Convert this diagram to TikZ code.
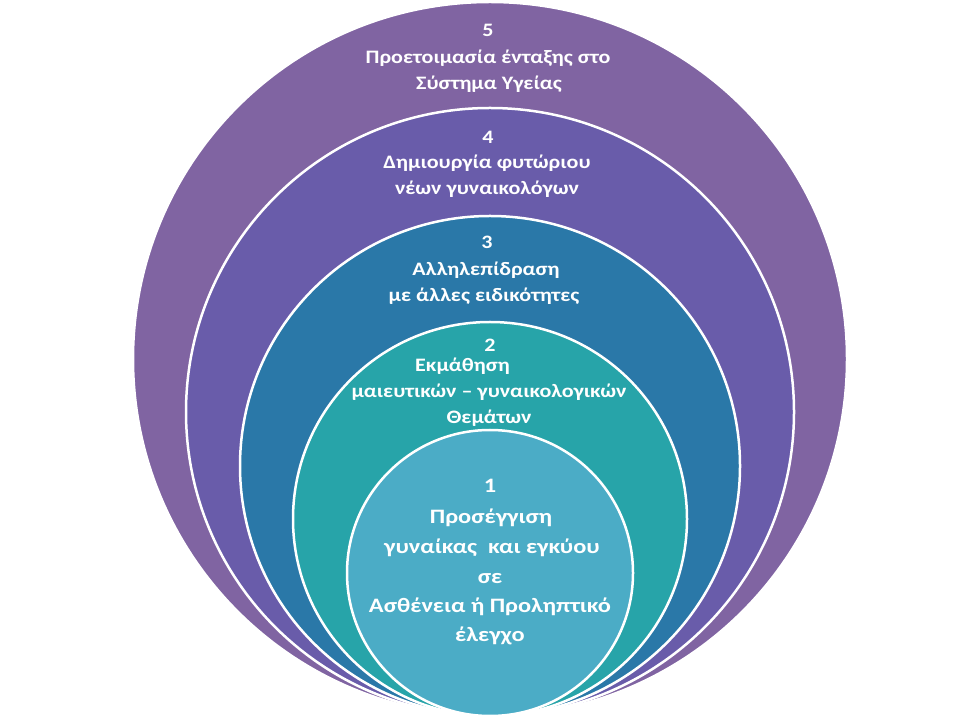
\documentclass[tikz,border=0pt]{standalone}
\usepackage{fontspec}
\setmainfont{Carlito}[FakeStretch=1.16]
\newfontfamily\bigringfont{Carlito}[FakeStretch=1.19]
\definecolor{cfive}{HTML}{8064A2}
\definecolor{cfour}{HTML}{695CAA}
\definecolor{cthree}{HTML}{2A78A8}
\definecolor{ctwo}{HTML}{27A4A9}
\definecolor{cone}{HTML}{4BACC6}
\tikzset{
  ring/.style={draw=white, line width=2.5pt},
  lbl/.style={text=white, anchor=base, inner sep=0pt, font=\bfseries\fontsize{19}{22}\selectfont},
  lblbig/.style={lbl, font=\bigringfont\bfseries\fontsize{20.5}{24}\selectfont},
}
\begin{document}
\begin{tikzpicture}[x=1pt,y=1pt]
\useasboundingbox (0,0) rectangle (960,720);
% circles, all tangent at the bottom
\path[ring, fill=cfive]  (490,361) circle (357);
\path[ring, fill=cfour]  (490,308) circle (304);
\path[ring, fill=cthree] (490,254) circle (250);
\path[ring, fill=ctwo]   (490,201) circle (197);
\path[ring, fill=cone]   (490,147) circle (143);
% circle 5
\node[lbl] (t5a) at (488,683) {5};
\node[lbl] (t5b) at (488,656) {Προετοιμασία ένταξης στο};
\node[lbl] (t5c) at (489,630) {Σύστημα Υγείας};
% circle 4
\node[lbl] (t4a) at (488,576) {4};
\node[lbl] (t4b) at (487,551) {Δημιουργία φυτώριου};
\node[lbl] (t4c) at (487,525) {νέων γυναικολόγων};
% circle 3
\node[lbl] (t3a) at (487,471) {3};
\node[lbl] (t3b) at (486,444) {Αλληλεπίδραση};
\node[lbl] (t3c) at (484,418) {με άλλες ειδικότητες};
% circle 2
\node[lbl] (t2a) at (490,368) {2};
\node[lbl, anchor=base west] (t2b) at (415,348) {Εκμάθηση};
\node[lbl] (t2c) at (489,322) {μαιευτικών – γυναικολογικών};
\node[lbl] (t2d) at (489,296) {Θεμάτων};
% circle 1
\node[lblbig] (t1a) at (490,227) {1};
\node[lblbig] (t1b) at (491,196) {Προσέγγιση};
\node[lblbig] (t1c) at (492,166) {γυναίκας\ \ και εγκύου};
\node[lblbig] (t1d) at (490,137) {σε};
\node[lblbig] (t1e) at (490,108) {Ασθένεια ή Προληπτικό};
\node[lblbig] (t1f) at (490,79) {έλεγχο};
\end{tikzpicture}
\end{document}
